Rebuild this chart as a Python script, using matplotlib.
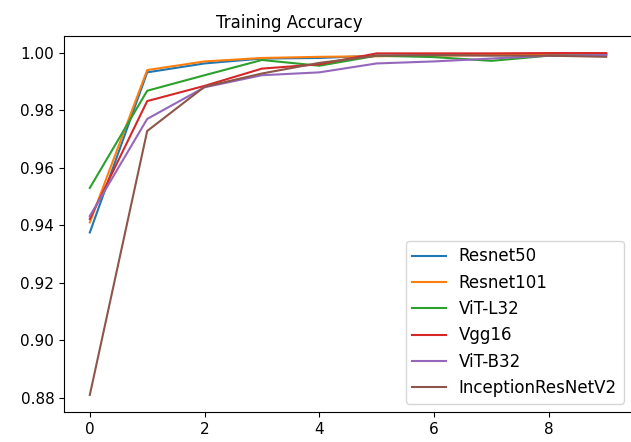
import matplotlib
matplotlib.use("Agg")
import matplotlib.pyplot as plt

epochs = list(range(10))

resnet50 = [0.9375, 0.9932, 0.9963, 0.9980, 0.9982, 0.9990, 0.9992, 0.9994, 0.9995, 0.9996]
resnet101 = [0.9410, 0.9940, 0.9970, 0.9982, 0.9986, 0.9988, 0.9990, 0.9992, 0.9994, 0.9995]
vit_l32 = [0.9530, 0.9868, 0.9922, 0.9975, 0.9955, 0.9990, 0.9985, 0.9972, 0.9990, 0.9992]
vgg16 = [0.9422, 0.9832, 0.9885, 0.9945, 0.9960, 0.9998, 0.9998, 0.9998, 0.9999, 0.9999]
vit_b32 = [0.9432, 0.9770, 0.9880, 0.9922, 0.9932, 0.9963, 0.9970, 0.9980, 0.9990, 0.9992]
inception = [0.8810, 0.9728, 0.9882, 0.9928, 0.9965, 0.9990, 0.9992, 0.9990, 0.9990, 0.9986]

series = [
    ("Resnet50", resnet50),
    ("Resnet101", resnet101),
    ("ViT-L32", vit_l32),
    ("Vgg16", vgg16),
    ("ViT-B32", vit_b32),
    ("InceptionResNetV2", inception),
]

plt.rcParams["font.size"] = 11

fig = plt.figure(figsize=(6.31, 4.42), dpi=100)
ax = fig.add_axes([64 / 631, 1 - 412 / 442, (632 - 64) / 631, (412 - 36) / 442])

for name, vals in series:
    ax.plot(epochs, vals, label=name, linewidth=1.5)

ax.set_title("Training Accuracy", x=0.396, fontsize=12)
ax.set_xticks([0, 2, 4, 6, 8])
ax.legend(loc="lower right", fontsize=12)

fig.savefig("out.png", dpi=100)
